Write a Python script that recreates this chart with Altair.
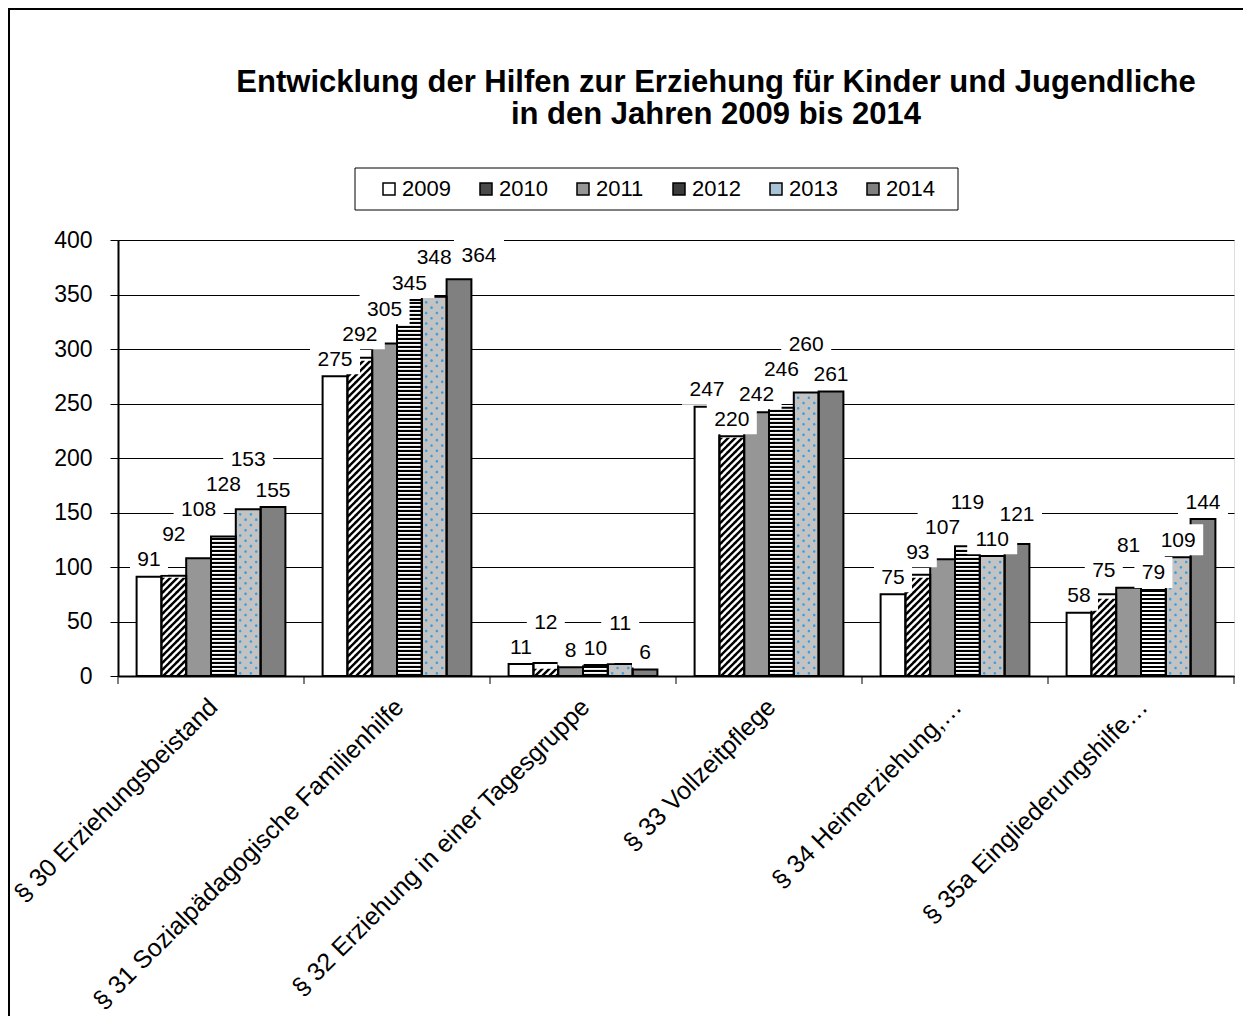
import altair as alt
import pandas as pd
import math

# ---------------- data ----------------
categories = [
    "§ 30 Erziehungsbeistand",
    "§ 31 Sozialpädagogische Familienhilfe",
    "§ 32 Erziehung in einer Tagesgruppe",
    "§ 33 Vollzeitpflege",
    "§ 34 Heimerziehung,…",
    "§ 35a Eingliederungshilfe…",
]
years = ["2009", "2010", "2011", "2012", "2013", "2014"]
v2009 = [91, 275, 11, 247, 75, 58]
v2010 = [92, 292, 12, 220, 93, 75]
v2011 = [108, 305, 8, 242, 107, 81]
v2012 = [128, 345, 10, 246, 119, 79]
v2013 = [153, 348, 11, 260, 110, 109]
v2014 = [155, 364, 6, 261, 121, 144]
y_ticks = [0, 50, 100, 150, 200, 250, 300, 350, 400]
title_line1 = "Entwicklung der Hilfen zur Erziehung für Kinder und Jugendliche"
title_line2 = "in den Jahren 2009 bis 2014"

series = {"2009": v2009, "2010": v2010, "2011": v2011,
          "2012": v2012, "2013": v2013, "2014": v2014}

# ---------------- layout / style ----------------
FONT = "Liberation Sans"
W_PLOT, H_PLOT = 1116, 436
YMAX = 400
UPP = YMAX / H_PLOT          # data units per pixel
PX = H_PLOT / YMAX           # pixels per data unit
STEP_X = W_PLOT / 6
BAR_W = STEP_X * 0.8 / 6     # width of one year bar (px)
HALF_PAD = STEP_X * 0.1      # half of the gap between groups (px)

base_fill = {"2009": "#ffffff", "2010": "#ffffff", "2011": "#969696",
             "2012": "#ffffff", "2013": "#c3c3c3", "2014": "#808080"}
legend_fill = ["#ffffff", "#4a4a4a", "#969696", "#3c3c3c", "#a9c3d6", "#808080"]

rows = []
for y in years:
    for c, v in zip(categories, series[y]):
        rows.append({"cat": c, "year": y, "value": v, "basecol": base_fill[y]})
df = pd.DataFrame(rows)

# ---- label placement (derived from values, avoids overlapping boxes) ----
GAP, STEP, CAP, TOL, SHIFT = 16, 23, 386, 8, 20
def box_w(v):
    return {1: 26, 2: 38, 3: 50}[len(str(v))]
lab_rows = []
for c_i, c in enumerate(categories):
    placed = []
    for i, y in enumerate(years):
        v = series[y][c_i]
        pos = v + GAP
        for _ in range(30):
            changed = False
            for (j, pj, vj) in placed:
                hov = (box_w(v) + box_w(vj)) / 2 - (i - j) * BAR_W
                if hov > TOL and abs(pos - pj) < STEP:
                    pos = pj + STEP
                    changed = True
            if not changed:
                break
        shifted = False
        if pos > CAP:
            pos = CAP
            for (j, pj, vj) in placed:
                hov = (box_w(v) + box_w(vj)) / 2 - (i - j) * BAR_W
                if hov > TOL and abs(pos - pj) < STEP:
                    shifted = True
        placed.append((i, pos, v))
        lab_rows.append({"cat": c, "year": y, "value": v, "lab": pos,
                         "bkey": f"{len(str(v))}{'s' if shifted else ''}",
                         "shifted": shifted, "txt": str(v)})
df_lab = pd.DataFrame(lab_rows)

# ---- pattern tiles (decorative fills inside the bars, from the values) ----
HALF = BAR_W / 2
def u(p):
    return round(p / HALF, 4)

# diagonal hatch tile
P = 7.0
E = 0.3
def clip(poly, cx, keep_ge):
    out = []
    n = len(poly)
    for i in range(n):
        cur, prev = poly[i], poly[i - 1]
        cin = cur[0] >= cx if keep_ge else cur[0] <= cx
        pin = prev[0] >= cx if keep_ge else prev[0] <= cx
        if cin != pin:
            t = (cx - prev[0]) / (cur[0] - prev[0])
            out.append((cx, prev[1] + t * (cur[1] - prev[1])))
        if cin:
            out.append(cur)
    return out
parts = []
for k in range(-2, int((BAR_W + P) / P) + 3):
    q = [(k * P + E, -E), (k * P + P / 2 + E, -E),
         (k * P + P / 2 - P - E, P + E), (k * P - P - E, P + E)]
    q = clip(q, 0.0, True)
    if q:
        q = clip(q, BAR_W, False)
    if len(q) >= 3:
        pts = [(u(x - HALF), u(yy - P / 2)) for x, yy in q]
        parts.append("M" + "L".join(f"{a},{b}" for a, b in pts) + "Z")
hatch_path = "".join(parts)

hatch_rows = []
for c, v in zip(categories, v2010):
    n = int(math.floor(v * PX / P))
    for k in range(n):
        hatch_rows.append({"cat": c, "year": "2010", "ty": (k + 0.5) * P * UPP})
df_hatch = pd.DataFrame(hatch_rows)

# horizontal stripes
SP = 4.0
stripe_rows = []
for c, v in zip(categories, v2012):
    k = 0
    while (k * SP + 2.1) * UPP <= v:
        stripe_rows.append({"cat": c, "year": "2012",
                            "s0": k * SP * UPP, "s1": (k * SP + 2.1) * UPP})
        k += 1
df_stripe = pd.DataFrame(stripe_rows)

# dots
R = 5.3
RD = 1.3
def dots_path(xs):
    s = ""
    for x in xs:
        s += (f"M{u(x - RD)},0A{u(RD)},{u(RD)} 0 1,0 {u(x + RD)},0"
              f"A{u(RD)},{u(RD)} 0 1,0 {u(x - RD)},0Z")
    return s
dotsA = dots_path([-8.0, 2.7])
dotsB = dots_path([-2.65, 8.05])
dot_rows = []
for c, v in zip(categories, v2013):
    k = 0
    while ((k + 0.5) * R + RD + 0.5) * UPP <= v:
        dot_rows.append({"cat": c, "year": "2013", "ty": (k + 0.5) * R * UPP,
                         "par": "a" if k % 2 == 0 else "b"})
        k += 1
df_dots = pd.DataFrame(dot_rows)

# ---------------- encodings ----------------
X = alt.X("cat:N", sort=categories, title=None,
          scale=alt.Scale(domain=categories, paddingInner=0.2, paddingOuter=0.1),
          axis=alt.Axis(labelAngle=-45, labelAlign="right", labelBaseline="top",
                        labelFontSize=25, labelFont=FONT, labelColor="black",
                        labelPadding=10, labelOffset=-6, labelLimit=700,
                        tickSize=8, tickOpacity=0,
                        domainColor="black", domainWidth=2, grid=False))
XO = alt.XOffset("year:N", sort=years,
                 scale=alt.Scale(domain=years, paddingInner=0, paddingOuter=0))
YSC = alt.Scale(domain=[0, YMAX], nice=False)
Y = alt.Y("value:Q", scale=YSC, title=None,
          axis=alt.Axis(values=y_ticks, grid=True, gridColor="black", gridWidth=1,
                        labelFontSize=23, labelFont=FONT, labelColor="black",
                        labelPadding=18, tickSize=8, tickColor="black",
                        domainColor="black", domainWidth=2))
XC = alt.X("cat:N", sort=categories)
XOC = alt.XOffset("year:N", sort=years)

bars = alt.Chart(df).mark_bar(strokeWidth=0).encode(
    x=X, xOffset=XO, y=Y,
    fill=alt.Fill("basecol:N", scale=None),
)

hatch = alt.Chart(df_hatch).mark_point(
    shape=hatch_path, size=BAR_W ** 2, filled=True, color="black",
    opacity=1, strokeWidth=0
).encode(x=XC, xOffset=XOC, y=alt.Y("ty:Q", scale=YSC))

stripes = alt.Chart(df_stripe).mark_bar(color="black", strokeWidth=0).encode(
    x=XC, xOffset=XOC, y=alt.Y("s0:Q", scale=YSC), y2="s1:Q")

dotsa = alt.Chart(df_dots).transform_filter(alt.datum.par == "a").mark_point(
    shape=dotsA, size=BAR_W ** 2, filled=True, color="#3a9ede", opacity=1, strokeWidth=0
).encode(x=XC, xOffset=XOC, y=alt.Y("ty:Q", scale=YSC))
dotsb = alt.Chart(df_dots).transform_filter(alt.datum.par == "b").mark_point(
    shape=dotsB, size=BAR_W ** 2, filled=True, color="#3a9ede", opacity=1, strokeWidth=0
).encode(x=XC, xOffset=XOC, y=alt.Y("ty:Q", scale=YSC))

outline = alt.Chart(df).mark_bar(fillOpacity=0, stroke="black", strokeWidth=2).encode(
    x=XC, xOffset=XOC, y=alt.Y("value:Q", scale=YSC))

# category boundary ticks below the x axis
ticks = alt.Chart(pd.DataFrame({"cat": categories})).mark_rule(
    color="black", strokeWidth=1, xOffset=HALF_PAD
).encode(x=alt.X("cat:N", sort=categories, bandPosition=1),
         y=alt.value(H_PLOT), y2=alt.value(H_PLOT + 8))
one = pd.DataFrame({"k": [0]})
tick0 = alt.Chart(one).mark_rule(color="black", strokeWidth=1).encode(
    x=alt.value(0), y=alt.value(H_PLOT), y2=alt.value(H_PLOT + 8))

BOX_H = 0.62
BOX_UNIT = 25.0
HW = {"1": 0.52, "2": 0.76, "3": 1.0}
boxes = []
for key in sorted(df_lab["bkey"].unique()):
    hw = HW[key[0]]
    off = SHIFT / BOX_UNIT if key.endswith("s") else 0.0
    pth = (f"M{round(off - hw, 3)},-{BOX_H}H{round(off + hw, 3)}V{BOX_H}"
           f"H{round(off - hw, 3)}Z")
    boxes.append(
        alt.Chart(df_lab).transform_filter(alt.datum.bkey == key).mark_point(
            shape=pth, size=(2 * BOX_UNIT) ** 2, filled=True, color="white",
            opacity=1, strokeWidth=0
        ).encode(x=XC, xOffset=XOC, y=alt.Y("lab:Q", scale=YSC))
    )

texts = alt.Chart(df_lab).transform_filter(alt.datum.shifted == False).mark_text(
    font=FONT, fontSize=21, color="black", align="center", baseline="middle", dy=1
).encode(x=XC, xOffset=XOC, y=alt.Y("lab:Q", scale=YSC), text="txt:N")
texts_s = alt.Chart(df_lab).transform_filter(alt.datum.shifted == True).mark_text(
    font=FONT, fontSize=21, color="black", align="center", baseline="middle", dy=1,
    dx=SHIFT
).encode(x=XC, xOffset=XOC, y=alt.Y("lab:Q", scale=YSC), text="txt:N")

# legend: built from the year scale; the layer itself draws nothing
legend_layer = alt.Chart(df).transform_filter("false").mark_square(filled=True).encode(
    x=XC, xOffset=XOC, y=alt.Y("value:Q", scale=YSC),
    color=alt.Color("year:N", scale=alt.Scale(domain=years, range=legend_fill),
                    legend=alt.Legend(title=None, orient="none", legendX=260, legendY=-62,
                                      direction="horizontal", columns=6, padding=0,
                                      symbolType="square", symbolSize=144,
                                      symbolStrokeColor="black", symbolStrokeWidth=1.5,
                                      symbolOpacity=1, labelFontSize=22, labelFont=FONT,
                                      labelColor="black", labelOffset=2,
                                      columnPadding=24, zindex=2)),
)

legend_box = alt.Chart(one).mark_rect(fill="white", stroke="black", strokeWidth=1).encode(
    x=alt.value(237), x2=alt.value(840), y=alt.value(-72), y2=alt.value(-30))
frame_left = alt.Chart(one).mark_rule(color="black", strokeWidth=2).encode(
    x=alt.value(-109), y=alt.value(-232), y2=alt.value(780))
frame_top = alt.Chart(one).mark_rule(color="black", strokeWidth=2).encode(
    x=alt.value(-110), x2=alt.value(1130), y=alt.value(-231))

TITLE_X = 598
title1 = alt.Chart(one).mark_text(
    font=FONT, fontSize=31, fontWeight="bold", color="black",
    align="center", baseline="alphabetic"
).encode(x=alt.value(TITLE_X), y=alt.value(-148), text=alt.value(title_line1))
title2 = alt.Chart(one).mark_text(
    font=FONT, fontSize=31, fontWeight="bold", color="black",
    align="center", baseline="alphabetic"
).encode(x=alt.value(TITLE_X), y=alt.value(-116), text=alt.value(title_line2))

chart = alt.layer(
    frame_left, frame_top, legend_box, title1, title2,
    bars, hatch, stripes, dotsa, dotsb, outline, ticks, tick0,
    *boxes, texts, texts_s, legend_layer,
).properties(
    width=W_PLOT, height=H_PLOT,
    padding={"left": 110, "top": 232, "right": 9, "bottom": 340},
    autosize=alt.AutoSizeParams(type="none"),
).configure_view(
    fill="#e0e0e0", stroke="black", strokeWidth=1.5
).configure(background="white")

chart.save("out.html", embed_options={"renderer": "svg", "actions": False})
